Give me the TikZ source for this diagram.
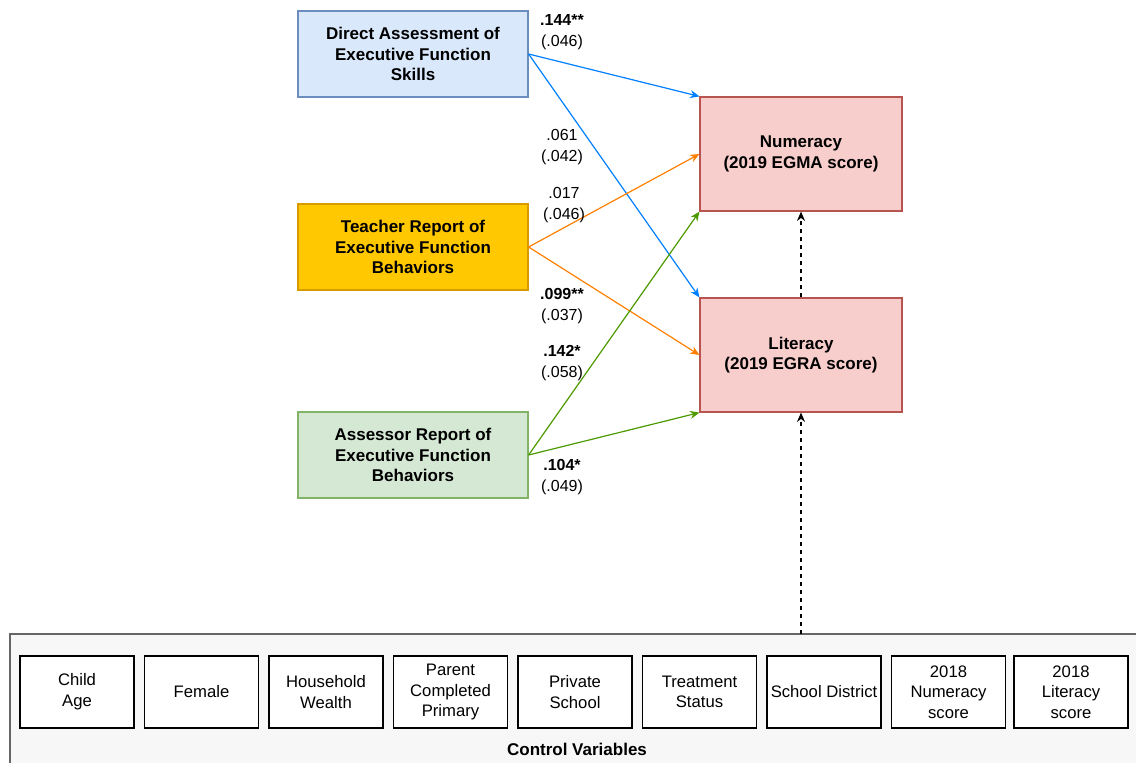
\documentclass[tikz,border=0pt]{standalone}
\usepackage{fontspec}
\setmainfont{Liberation Sans}
\usetikzlibrary{arrows.meta}
\definecolor{blueF}{HTML}{DAE8FC}\definecolor{blueD}{HTML}{6C8EBF}
\definecolor{goldF}{HTML}{FFC800}\definecolor{goldD}{HTML}{D79B00}
\definecolor{greenF}{HTML}{D5E8D4}\definecolor{greenD}{HTML}{82B366}
\definecolor{redF}{HTML}{F8CECC}\definecolor{redD}{HTML}{B85450}
\definecolor{aBlue}{HTML}{007FFF}\definecolor{aOrange}{HTML}{FF8000}\definecolor{aGreen}{HTML}{4D9900}
\definecolor{ctrlF}{HTML}{F7F7F7}\definecolor{ctrlD}{HTML}{666666}
\tikzset{
  srcbox/.style={draw, line width=0.9pt, minimum width=172.5pt, minimum height=64.5pt, align=center, font=\fontsize{12.75}{15.5}\selectfont\bfseries, inner sep=2pt},
  outbox/.style={draw=redD, fill=redF, line width=0.9pt, minimum width=151.5pt, minimum height=85.5pt, align=center, font=\fontsize{12.75}{15.5}\selectfont\bfseries},
  ctlbox/.style={draw, fill=white, line width=1pt, minimum width=85.5pt, minimum height=54pt, align=center, font=\fontsize{12.5}{15.5}\selectfont, inner sep=1pt},
  coef/.style={align=center, font=\fontsize{12}{16}\selectfont},
  path/.style={line width=0.9pt, -{Stealth[length=7pt,width=6pt]}},
  dash arrow/.style={line width=0.9pt, dashed, -{Stealth[length=7pt,width=6pt]}},
}
\begin{document}
\begin{tikzpicture}[x=0.75pt,y=-0.75pt]
\useasboundingbox (0,0) rectangle (1136,763);
\begin{scope}
\clip (0,0) rectangle (1136,763);
\node[draw=ctrlD, fill=ctrlF, line width=1pt, minimum width=852pt, minimum height=103.5pt, inner sep=0pt] (ctrl) at (578,703) {};
\end{scope}
\node[font=\fontsize{12.75}{15}\selectfont\bfseries] (ctrltitle) at (577,749) {Control Variables};

\node[srcbox, draw=blueD, fill=blueF] (direct) at (413,54) {Direct Assessment of\\Executive Function\\Skills};
\node[srcbox, draw=goldD, fill=goldF] (teacher) at (413,247) {Teacher Report of\\Executive Function\\Behaviors};
\node[srcbox, draw=greenD, fill=greenF] (assessor) at (413,455) {Assessor Report of\\Executive Function\\Behaviors};

\node[outbox] (num) at (801,154) {Numeracy\\(2019 EGMA score)};
\node[outbox] (lit) at (801,355) {Literacy\\(2019 EGRA score)};

\node[ctlbox] (c1) at (77,692) {Child\\Age};
\node[ctlbox] (c2) at (201.5,692) {Female};
\node[ctlbox] (c3) at (326,692) {Household\\Wealth};
\node[ctlbox] (c4) at (450.5,692) {Parent\\Completed\\Primary};
\node[ctlbox] (c5) at (575,692) {Private\\School};
\node[ctlbox] (c6) at (699.5,692) {Treatment\\Status};
\node[ctlbox] (c7) at (824,692) {School District};
\node[ctlbox] (c8) at (948.5,692) {2018\\Numeracy\\score};
\node[ctlbox] (c9) at (1071,692) {2018\\Literacy\\score};

\draw[path, aBlue] (direct.east) -- (num.north west);
\draw[path, aBlue] (direct.east) -- (lit.north west);
\draw[path, aOrange] (teacher.east) -- (num.west);
\draw[path, aOrange] (teacher.east) -- (lit.west);
\draw[path, aGreen] (assessor.east) -- (num.south west);
\draw[path, aGreen] (assessor.east) -- (lit.south west);

\coordinate (ctop) at (801,634);
\draw[dash arrow] (ctop) -- (lit.south);
\draw[dash arrow] (lit.north) -- (num.south);

\node[coef] (k1) at (562,32) {\textbf{.144**}\\(.046)};
\node[coef] (k2) at (562,147) {.061\\(.042)};
\node[coef] (k3) at (564,205) {.017\\(.046)};
\node[coef] (k4) at (562,306) {\textbf{.099**}\\(.037)};
\node[coef] (k5) at (562,363) {\textbf{.142*}\\(.058)};
\node[coef] (k6) at (562,477) {\textbf{.104*}\\(.049)};
\end{tikzpicture}
\end{document}
